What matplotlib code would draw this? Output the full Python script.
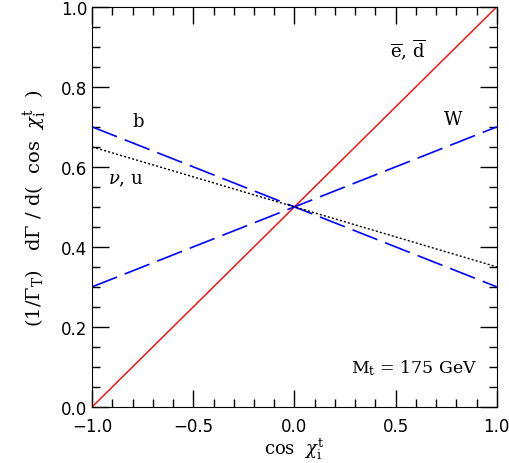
import numpy as np
import matplotlib
matplotlib.use("Agg")
import matplotlib.pyplot as plt
from matplotlib.ticker import MultipleLocator

# cos chi endpoints and the distributions at them
X = [-1.0, 1.0]
E_D = [0.0, 1.0]      # e-bar, d-bar
B = [0.70, 0.30]      # b
W = [0.30, 0.70]      # W
NU_U = [0.65, 0.35]   # nu, u

LBL_FONT = "DejaVu Serif"
plt.rcParams["mathtext.fontset"] = "dejavuserif"

fig = plt.figure(figsize=(5.09, 4.64), dpi=100)
ax = fig.add_axes([0.181, 0.121, 0.795, 0.862])

ax.plot(X, E_D, color="red", lw=1.0)
ax.plot(X, B, color="blue", lw=1.2, dashes=(16, 5))
ax.plot(X, W, color="blue", lw=1.2, dashes=(16, 5))
ax.plot(X, NU_U, color="black", lw=1.0, dashes=(1.5, 1.5))

ax.set_xlim(-1, 1)
ax.set_ylim(0, 1)
ax.xaxis.set_major_locator(MultipleLocator(0.5))
ax.xaxis.set_minor_locator(MultipleLocator(0.1))
ax.yaxis.set_major_locator(MultipleLocator(0.2))
ax.yaxis.set_minor_locator(MultipleLocator(0.05))
ax.tick_params(which="both", direction="in", top=True, right=True, labelsize=12)
ax.tick_params(which="major", length=12, width=1)
ax.tick_params(which="minor", length=6, width=1)
ax.tick_params(axis="x", pad=7)
ax.xaxis.set_major_formatter(plt.FuncFormatter(lambda v, p: f"{v:.1f}".replace("-", "\u2212")))
ax.yaxis.set_major_formatter(plt.FuncFormatter(lambda v, p: f"{v:.1f}"))

ax.set_xlabel(r"cos  $\chi_{\rm i}^{\rm t}$", fontsize=13, family=LBL_FONT, labelpad=1)
ax.set_ylabel(r"(1/$\Gamma_{\rm T}$)   d$\Gamma$ / d(  cos  $\chi_{\rm i}^{\rm t}$  )",
              fontsize=14, family=LBL_FONT, labelpad=8)

ax.text(0.47, 0.895, r"$\overline{\rm e}$, $\overline{\rm d}$", fontsize=13,
        family=LBL_FONT, va="center")
ax.text(-0.80, 0.715, "b", fontsize=13, family=LBL_FONT, va="center")
ax.text(0.74, 0.72, "W", fontsize=13, family=LBL_FONT, va="center")
ax.text(-0.92, 0.57, r"$\nu$, u", fontsize=13, family=LBL_FONT, va="center")
ax.text(0.28, 0.10, r"M$_{\rm t}$ = 175 GeV", fontsize=12.5, family=LBL_FONT, va="center")

fig.savefig("out.png", dpi=100)
